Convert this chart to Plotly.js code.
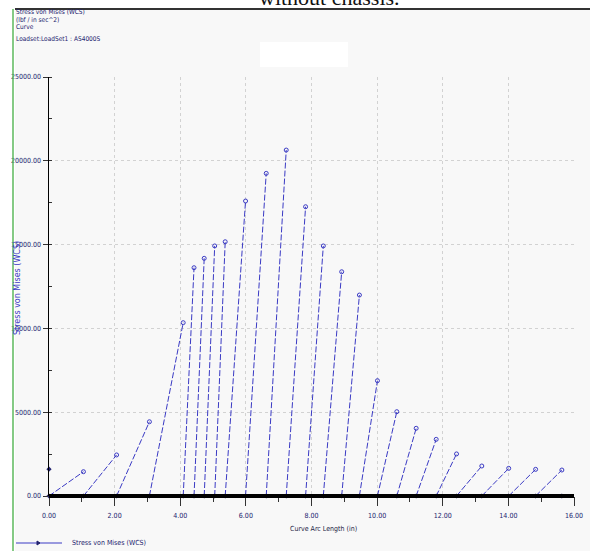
<!DOCTYPE html>
<html>
<head>
<meta charset="utf-8">
<script src="https://cdn.plot.ly/plotly-3.0.1.min.js"></script>
<style>
  html, body { margin: 0; padding: 0; background: #ffffff; }
  #chart { width: 602px; height: 551px; }
</style>
</head>
<body>
<div id="chart"></div>
<script>
// Curve arc length (in) of each node along the curve
const nodeX = [0, 1.05, 2.06, 3.06, 4.09, 4.42, 4.73, 5.05, 5.37, 5.99, 6.62, 7.23,
               7.82, 8.36, 8.92, 9.46, 10.01, 10.6, 11.19, 11.8, 12.42, 13.19, 14.01, 14.83, 15.63];
// Peak von Mises stress reached at the end of each element segment
const peakStress = [1450, 2450, 4430, 10340, 13620, 14180, 14920, 15170, 17600, 19250, 20640, 17260,
                    14920, 13380, 11990, 6880, 5030, 4040, 3380, 2510, 1790, 1650, 1590, 1550];
// Lone point plotted on the stress axis at the start
const startX = [0];
const startStress = [1600];
// Series name and axis ticks
const seriesName = 'Stress von Mises (WCS)';
const yTickVals = [0, 5000, 10000, 15000, 20000, 25000];
const yTickText = ["0.00", "5000.00", "10000.00", "15000.00", "20000.00", "25000.00"];
const xTickVals = [0, 2, 4, 6, 8, 10, 12, 14, 16];
const xTickText = ["0.00", "2.00", "4.00", "6.00", "8.00", "10.00", "12.00", "14.00", "16.00"];

// build segments: each element rises from (x_i, 0) to (x_{i+1}, peak_i)
const segX = [], segY = [];
for (let i = 0; i < peakStress.length; i++) {
  segX.push(nodeX[i], nodeX[i + 1], null);
  segY.push(0, peakStress[i], null);
}
const baseY = nodeX.map(() => 0);

const blue = '#3a3ac4';
const navy = '#22226e';
const narrow = '"Liberation Sans Narrow", "DejaVu Sans Condensed", "Arial Narrow", sans-serif';

const traces = [
  {
    x: segX, y: segY, type: 'scatter', mode: 'lines',
    line: { color: blue, width: 1, dash: '6px,2px' },
    name: seriesName, showlegend: false, hoverinfo: 'skip'
  },
  {
    x: nodeX.slice(1), y: peakStress, type: 'scatter', mode: 'markers',
    marker: { color: blue, size: 4, symbol: 'circle-open', line: { width: 1, color: blue } },
    showlegend: false
  },
  {
    x: nodeX, y: baseY, type: 'scatter', mode: 'markers',
    marker: { color: navy, size: 4, symbol: 'diamond' },
    showlegend: false, cliponaxis: false
  },
  {
    x: startX, y: startStress, type: 'scatter', mode: 'markers',
    marker: { color: navy, size: 4, symbol: 'diamond' },
    showlegend: false, cliponaxis: false
  }
];

// pixel -> paper helpers (plot area: x 49..574, y 77..496)
const px = p => (p - 49) / 525;
const py = p => (496 - p) / 419;

const hdrFont = { family: narrow, size: 6.5, color: navy };

const layout = {
  width: 602, height: 551,
  margin: { l: 49, r: 28, t: 77, b: 55, pad: 0 },
  paper_bgcolor: '#ffffff',
  plot_bgcolor: 'rgba(0,0,0,0)',
  showlegend: false,
  xaxis: {
    range: [0, 16], showline: false, zeroline: false,
    tickvals: xTickVals, ticktext: xTickText, ticks: 'outside', ticklen: 9, tickwidth: 1, tickcolor: '#333',
    ticklabelstandoff: 4,
    minor: { dtick: 1, ticks: 'outside', ticklen: 5, tickcolor: '#333', showgrid: false },
    showgrid: true, gridcolor: '#d2d2d2', griddash: 'dot', gridwidth: 1,
    tickfont: { family: narrow, size: 7, color: navy },
    fixedrange: true
  },
  yaxis: {
    range: [0, 25000], showline: true, linecolor: '#000', linewidth: 1.5, zeroline: false,
    tickvals: yTickVals, ticktext: yTickText, ticks: 'outside', ticklen: 5, tickcolor: '#333',
    minor: { dtick: 2500, ticks: 'inside', ticklen: 3, tickcolor: '#333', showgrid: false },
    showgrid: true, gridcolor: '#d2d2d2', griddash: 'dot', gridwidth: 1,
    tickfont: { family: narrow, size: 7, color: navy },
    fixedrange: true
  },
  shapes: [
    { type: 'rect', xref: 'paper', yref: 'paper', x0: px(15), x1: px(590), y0: py(551), y1: py(9),
      fillcolor: '#f8f8f8', line: { width: 0 }, layer: 'below' },
    { type: 'line', xref: 'paper', yref: 'paper', x0: px(15), x1: px(590), y0: py(9), y1: py(9),
      line: { color: '#333', width: 2 } },
    { type: 'line', xref: 'paper', yref: 'paper', x0: px(13), x1: px(13), y0: py(551), y1: py(9),
      line: { color: '#5cb85c', width: 1.5 } },
    { type: 'rect', xref: 'paper', yref: 'paper', x0: px(260), x1: px(348), y0: py(67), y1: py(42),
      fillcolor: '#ffffff', line: { width: 0 }, layer: 'below' },
    { type: 'line', xref: 'x', yref: 'paper', x0: 0, x1: 16, y0: 0, y1: 0,
      line: { color: '#000', width: 4 } },
    // legend key: line with marker
    { type: 'line', xref: 'paper', yref: 'paper', x0: px(16), x1: px(62), y0: py(543), y1: py(543),
      line: { color: blue, width: 1 } },
    { type: 'path', xref: 'paper', yref: 'paper',
      path: `M ${px(37)} ${py(541)} L ${px(40)} ${py(543)} L ${px(37)} ${py(545)} Z`,
      fillcolor: navy, line: { color: navy, width: 1 } }
  ],
  annotations: [
    { text: 'without chassis.', xref: 'paper', yref: 'paper', x: px(329), y: py(12),
      xanchor: 'center', yanchor: 'bottom', showarrow: false,
      font: { family: '"Liberation Serif", "DejaVu Serif", serif', size: 22, color: '#111' } },
    { text: 'Stress von Mises (WCS)', xref: 'paper', yref: 'paper', x: px(14), y: py(12.5),
      xanchor: 'left', yanchor: 'middle', showarrow: false, font: hdrFont },
    { text: '(lbf / in sec^2)', xref: 'paper', yref: 'paper', x: px(14), y: py(20),
      xanchor: 'left', yanchor: 'middle', showarrow: false, font: hdrFont },
    { text: 'Curve', xref: 'paper', yref: 'paper', x: px(14), y: py(27.5),
      xanchor: 'left', yanchor: 'middle', showarrow: false, font: hdrFont },
    { text: 'Loadset:LoadSet1 : AS4000S', xref: 'paper', yref: 'paper', x: px(14), y: py(39),
      xanchor: 'left', yanchor: 'middle', showarrow: false, font: hdrFont },
    { text: 'Curve Arc Length (in)', xref: 'paper', yref: 'paper', x: px(323), y: py(529),
      xanchor: 'center', yanchor: 'middle', showarrow: false,
      font: { family: narrow, size: 7, color: '#222244' } },
    { text: seriesName, xref: 'paper', yref: 'paper', x: px(17), y: py(288),
      xanchor: 'center', yanchor: 'middle', showarrow: false, textangle: -90,
      font: { family: '"DejaVu Sans", sans-serif', size: 8, color: '#3a3ac4' } },
    { text: seriesName, xref: 'paper', yref: 'paper', x: px(70), y: py(543),
      xanchor: 'left', yanchor: 'middle', showarrow: false,
      font: { family: narrow, size: 7, color: navy } }
  ]
};

Plotly.newPlot('chart', traces, layout, { staticPlot: true, displayModeBar: false });
</script>
</body>
</html>
